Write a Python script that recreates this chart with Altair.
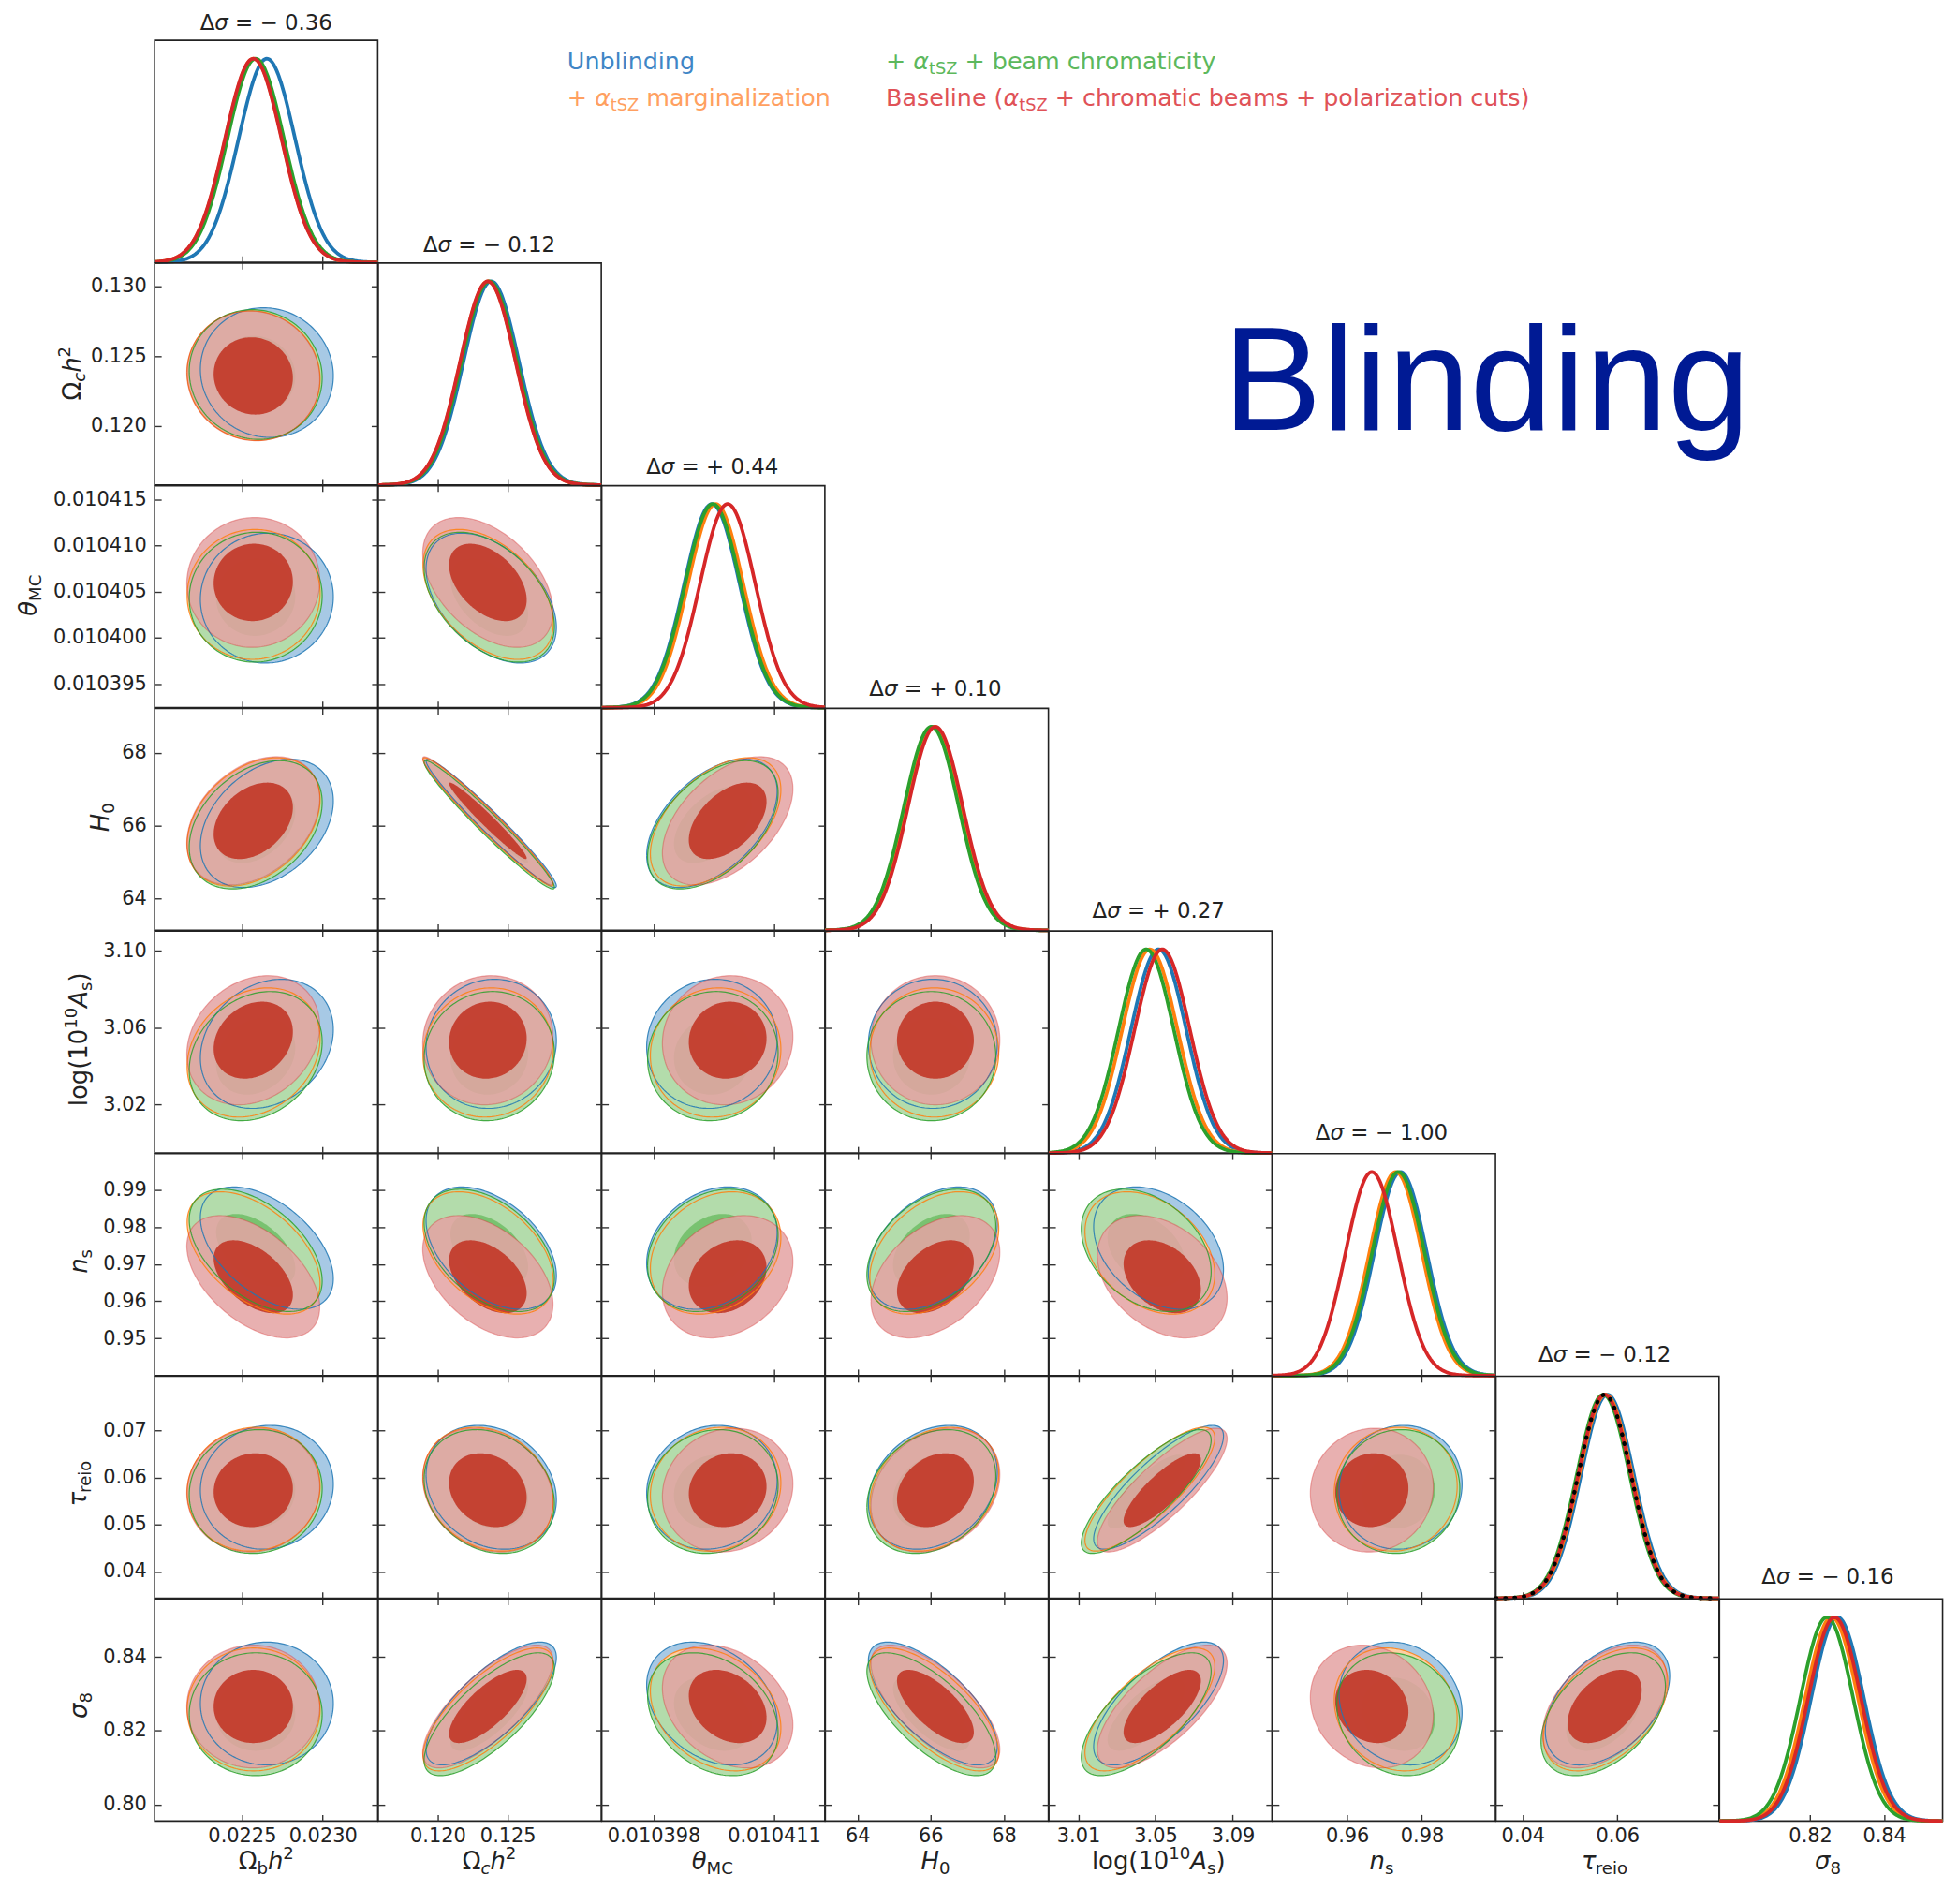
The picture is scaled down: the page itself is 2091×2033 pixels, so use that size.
import numpy as np
import pandas as pd
import altair as alt

# ---------------- values ----------------
param_order = ["ombh2", "omch2", "thetaMC", "H0", "logA", "ns", "tau", "sigma8"]

axis_lo = [0.02196, 0.11575, 0.0103924, 63.12, 2.9948, 0.9400, 0.0343, 0.7955]
axis_hi = [0.02334, 0.13168, 0.0104165, 69.22, 3.1103, 0.9997, 0.0815, 0.8558]

x_ticks = [[0.0225, 0.0230], [0.120, 0.125], [0.010398, 0.010411], [64, 66, 68],
           [3.01, 3.05, 3.09], [0.96, 0.98], [0.04, 0.06], [0.82, 0.84]]
y_ticks = [[], [0.120, 0.125, 0.130], [0.010395, 0.010400, 0.010405, 0.010410, 0.010415],
           [64, 66, 68], [3.02, 3.06, 3.10], [0.95, 0.96, 0.97, 0.98, 0.99],
           [0.04, 0.05, 0.06, 0.07], [0.80, 0.82, 0.84]]
tick_fmt = [".4f", ".3f", ".6f", ".0f", ".2f", ".2f", ".2f", ".2f"]

# posterior means of each run (Unblinding, +tSZ, +beam, Baseline)
mean_unblinding = [0.022654, 0.12382, 0.0104043, 66.06, 3.0516, 0.9743, 0.0579, 0.8274]
mean_tsz        = [0.022572, 0.12360, 0.0104047, 66.10, 3.0471, 0.9730, 0.0575, 0.8258]
mean_beam       = [0.022585, 0.12368, 0.0104044, 66.02, 3.0452, 0.9737, 0.0570, 0.8245]
mean_baseline   = [0.022570, 0.12358, 0.0104060, 66.13, 3.0535, 0.9666, 0.0573, 0.8266]
sigma           = [0.000175, 0.00198, 0.0000030, 0.75, 0.0143, 0.0070, 0.0056, 0.0071]

corr_rows = [[],
             [-0.05],
             [0.02, -0.45],
             [0.35, -0.975, 0.50],
             [0.22, 0.05, 0.05, 0.00],
             [-0.50, -0.45, 0.25, 0.40, -0.35],
             [0.05, -0.20, 0.10, 0.25, 0.83, 0.05],
             [0.00, 0.75, -0.30, -0.70, 0.70, -0.15, 0.45]]

delta_sigma = ["− 0.36", "− 0.12", "+ 0.44", "+ 0.10", "+ 0.27", "− 1.00", "− 0.12", "− 0.16"]
tau_prior = [0.0573, 0.0056]
contour_k = [2.35, 1.40]   # 95% and 68% contour radii (sigma units)

# ---------------- styling ----------------
FONT = "DejaVu Sans"
PW, PH = 239.5, 238.3
L = 7
line_col = ["#1f77b4", "#ff7f0e", "#2ca02c", "#d62728"]
fill_outer = ["#a7c9e5", "#fdcfa4", "#b3dcab", "#e4a3a3"]
fill_inner = ["#6aa5d6", "#fca86c", "#79c270", "#c23b2c"]
op_outer = [1.0, 1.0, 1.0, 0.86]
op_inner = [1.0, 1.0, 1.0, 0.94]
means = [mean_unblinding, mean_tsz, mean_beam, mean_baseline]


def xenc(c, bottom, field="x"):
    return alt.X(f"{field}:Q",
                 scale=alt.Scale(domain=[axis_lo[c], axis_hi[c]], nice=False, zero=False),
                 axis=alt.Axis(values=x_ticks[c], format=tick_fmt[c], orient="bottom", offset=-L,
                               tickSize=L if bottom else 2 * L, labels=bottom, domain=False,
                               grid=False, labelFont=FONT, labelFontSize=21, labelColor="#222",
                               labelPadding=5, labelOverlap=False, tickColor="#333",
                               tickWidth=1.4),
                 title=None)


def yenc(r, left, field):
    return alt.Y(f"{field}:Q",
                 scale=alt.Scale(domain=[axis_lo[r], axis_hi[r]], nice=False, zero=False),
                 axis=alt.Axis(values=y_ticks[r], format=tick_fmt[r], orient="left", offset=-L,
                               tickSize=L if left else 2 * L, labels=left, domain=False,
                               grid=False, labelFont=FONT, labelFontSize=21, labelColor="#222",
                               labelPadding=9, labelOverlap=False, tickColor="#333",
                               tickWidth=1.4),
                 title=None)


def band(mx, my, sx, sy, rho, k, n=90):
    th = np.linspace(np.pi, 0, n)
    u = np.cos(th)
    x = mx + k * sx * u
    yc = my + rho * sy * k * u
    half = k * sy * np.sqrt(1 - rho ** 2) * np.sqrt(np.clip(1 - u ** 2, 0, None))
    return x, yc - half, yc + half


def off_panel(r, c):
    rho = corr_rows[r][c]
    fills, outlines = [], []
    for k in range(4):
        m = means[k]
        for li, kk in enumerate(contour_k):
            x, ylo, yhi = band(m[c], m[r], sigma[c], sigma[r], rho, kk)
            df = pd.DataFrame({"x": x, "lo": ylo, "hi": yhi})
            col = fill_outer[k] if li == 0 else fill_inner[k]
            op = op_outer[k] if li == 0 else op_inner[k]
            fills.append(alt.Chart(df).mark_area(color=col, opacity=op).encode(
                x=xenc(c, r == 7), y=yenc(r, c == 0, "lo"), y2=alt.Y2("hi:Q")))
        x, ylo, yhi = band(m[c], m[r], sigma[c], sigma[r], rho, contour_k[0])
        xs = np.concatenate([x, x[::-1], x[:1]])
        ys = np.concatenate([yhi, ylo[::-1], yhi[:1]])
        dfl = pd.DataFrame({"x": xs, "y": ys, "o": np.arange(len(xs))})
        outlines.append(alt.Chart(dfl).mark_line(
            color=line_col[k], strokeWidth=1.2, opacity=0.85 if k < 3 else 0.35).encode(
            x=xenc(c, r == 7), y=yenc(r, c == 0, "y"), order="o:Q"))
    inner = alt.layer(*(fills + outlines))
    if c == r - 1:
        rt = alt.Chart(pd.DataFrame({"v": [means[3][r]]})).mark_point(opacity=0).encode(
            y=alt.Y("v:Q", scale=alt.Scale(domain=[axis_lo[r], axis_hi[r]], nice=False, zero=False),
                    axis=alt.Axis(values=y_ticks[r], orient="right", offset=-L, tickSize=L,
                                  labels=False, domain=False, grid=False, tickColor="#333",
                                  tickWidth=1.4),
                    title=None))
        return alt.layer(inner, rt).resolve_axis(y="independent").properties(width=PW, height=PH)
    return inner.properties(width=PW, height=PH)


# ---------------- text (labels with sub/superscripts) ----------------
EM = {" ": 0.318, "+": 0.838, "−": 0.838, "=": 0.838, "(": 0.390, ")": 0.390, ".": 0.318,
      "a": 0.613, "b": 0.635, "c": 0.550, "d": 0.635, "e": 0.615, "g": 0.635, "h": 0.634,
      "i": 0.278, "l": 0.278, "m": 0.974, "n": 0.634, "o": 0.612, "p": 0.635, "r": 0.411,
      "s": 0.521, "t": 0.392, "u": 0.634, "y": 0.592, "z": 0.525, "B": 0.686, "S": 0.635,
      "Z": 0.685, "U": 0.732, "A": 0.684, "C": 0.698, "H": 0.752, "M": 0.863, "Ω": 0.765,
      "α": 0.659, "θ": 0.612, "τ": 0.568, "σ": 0.634, "Δ": 0.684}


def tw(s, fs):
    return sum(EM.get(ch, 0.636) for ch in s) * fs


def rich(segs, x, y, fs, color, align="left", angle=0):
    total = sum(tw(t, fs * sc) for t, sc, sh, it in segs)
    pos = -total / 2 if align == "center" else 0.0
    rows = []
    for t, sc, sh, it in segs:
        f = fs * sc
        lead = len(t) - len(t.lstrip(" "))
        trail = len(t) - len(t.rstrip(" "))
        core = t.strip(" ")
        pos += lead * EM[" "] * f
        if angle == 0:
            px, py = x + pos, y + sh * fs
        else:
            px, py = x + sh * fs, y - pos
        rows.append(dict(px=px, py=py, txt=core, fs=f, col=color, ang=angle, it=it))
        pos += tw(core, f) + trail * EM[" "] * f
    return rows


axis_titles = [
    [("Ω", 1, 0, False), ("b", .7, .2, False), ("h", 1, 0, True), ("2", .7, -.42, False)],
    [("Ω", 1, 0, False), ("c", .7, .2, True), ("h", 1, 0, True), ("2", .7, -.42, False)],
    [("θ", 1, 0, True), ("MC", .7, .2, False)],
    [("H", 1, 0, True), ("0", .7, .2, False)],
    [("log(10", 1, 0, False), ("10", .7, -.42, False), ("A", 1, 0, True), ("s", .7, .2, False),
     (")", 1, 0, False)],
    [("n", 1, 0, True), ("s", .7, .2, False)],
    [("τ", 1, 0, True), ("reio", .7, .2, False)],
    [("σ", 1, 0, True), ("8", .7, .2, False)],
]
ytitle_x = [0, -80, -127, -49, -73, -73, -74, -73]

legend_items = [
    ([("Unblinding", 1, 0, False)], 443, 31, "#3f86c6"),
    ([("+ ", 1, 0, False), ("α", 1, 0, True), ("tSZ", .7, .2, False),
      (" marginalization", 1, 0, False)], 443, 70, "#ffa060"),
    ([("+ ", 1, 0, False), ("α", 1, 0, True), ("tSZ", .7, .2, False),
      (" + beam chromaticity", 1, 0, False)], 785, 31, "#5cb85c"),
    ([("Baseline (", 1, 0, False), ("α", 1, 0, True), ("tSZ", .7, .2, False),
      (" + chromatic beams + polarization cuts)", 1, 0, False)], 785, 70, "#e05257"),
]

rows = []
for segs, x0, y0, col in legend_items:
    rows += rich(segs, x0, y0, 25.5, col)
for i in range(8):
    rows += rich([("Δ", 1, 0, False), ("σ", 1, 0, True), (" = " + delta_sigma[i], 1, 0, False)],
                 i * PW + PW / 2, i * PH - 11, 23, "#222", align="center")
    rows += rich(axis_titles[i], i * PW + PW / 2, 8 * PH + 57, 26, "#222", align="center")
    if i > 0:
        rows += rich(axis_titles[i], ytitle_x[i], i * PH + PH / 2, 26, "#222",
                     align="center", angle=270)
tdf = pd.DataFrame(rows)
tdf["txt"] = tdf["txt"].astype(str)


def text_layer(df, italic):
    return alt.Chart(df).mark_text(align="left", baseline="alphabetic", font=FONT,
                                   fontStyle="italic" if italic else "normal").encode(
        x=alt.X("px:Q", scale=None, axis=None), y=alt.Y("py:Q", scale=None, axis=None),
        text="txt:N", size=alt.Size("fs:Q", scale=None, legend=None),
        color=alt.Color("col:N", scale=None, legend=None),
        angle=alt.Angle("ang:Q", scale=None))


blind = alt.Chart(pd.DataFrame({"px": [1147], "py": [418], "txt": ["Blinding"]})).mark_text(
    align="left", baseline="alphabetic", font="Liberation Sans", fontSize=159,
    color="#001a94").encode(x=alt.X("px:Q", scale=None, axis=None),
                            y=alt.Y("py:Q", scale=None, axis=None), text="txt:N")


def diag_panel(i):
    xg = np.linspace(axis_lo[i], axis_hi[i], 220)
    layers = []
    for k in range(4):
        y = np.exp(-0.5 * ((xg - means[k][i]) / sigma[i]) ** 2)
        df = pd.DataFrame({"x": xg, "y": y})
        layers.append(alt.Chart(df).mark_line(color=line_col[k], strokeWidth=3.8).encode(
            x=xenc(i, i == 7),
            y=alt.Y("y:Q", scale=alt.Scale(domain=[0, 1.09], nice=False), axis=None, title=None)))
    if i == 6:
        y = np.exp(-0.5 * ((xg - tau_prior[0]) / tau_prior[1]) ** 2)
        df = pd.DataFrame({"x": xg, "y": y})
        layers.append(alt.Chart(df).mark_line(color="black", strokeWidth=4.5, strokeDash=[0.5, 9.5],
                                              strokeCap="round").encode(
            x=xenc(i, False),
            y=alt.Y("y:Q", scale=alt.Scale(domain=[0, 1.09], nice=False), axis=None, title=None)))
    inner = alt.layer(*layers)
    if i == 0:
        return alt.layer(inner, text_layer(tdf[~tdf.it].drop(columns="it"), False),
                         text_layer(tdf[tdf.it].drop(columns="it"), True), blind).resolve_scale(
            x="independent", y="independent").properties(width=PW, height=PH)
    return inner.properties(width=PW, height=PH)


def blank():
    return alt.Chart(pd.DataFrame({"v": [0]})).mark_point(opacity=0).encode(
        x=alt.X("v:Q", axis=None), y=alt.Y("v:Q", axis=None)).properties(
        width=PW, height=PH, view=alt.ViewBackground(strokeOpacity=0))


cells = []
for r in range(8):
    for c in range(8):
        if c < r:
            cells.append(off_panel(r, c))
        elif c == r:
            cells.append(diag_panel(r))
        else:
            cells.append(blank())

chart = alt.concat(*cells, columns=8, spacing=0, bounds="flush").properties(
    padding={"left": 9, "top": 0, "right": 0, "bottom": 0}
).configure(font=FONT, background="white").configure_view(stroke="#222", strokeWidth=1.6)

chart.save("out.html", embed_options={"renderer": "svg", "actions": False})
